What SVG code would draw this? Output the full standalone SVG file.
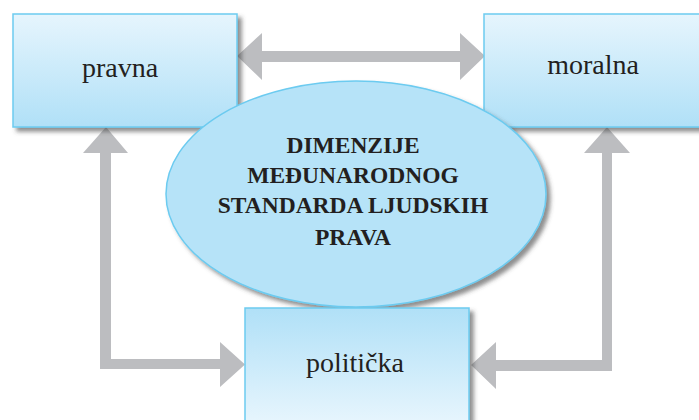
<svg xmlns="http://www.w3.org/2000/svg" width="699" height="420" viewBox="0 0 699 420">
<defs>
<linearGradient id="gDown" x1="0" y1="0" x2="0" y2="1"><stop offset="0" stop-color="#e6f5fd"/><stop offset="1" stop-color="#b0e0f7"/></linearGradient>
<linearGradient id="gUp" x1="0" y1="0" x2="0" y2="1"><stop offset="0" stop-color="#b0e0f7"/><stop offset="1" stop-color="#eef8fe"/></linearGradient>
<filter id="sh" x="-10%" y="-10%" width="130%" height="130%"><feDropShadow dx="4" dy="4" stdDeviation="2" flood-color="#444" flood-opacity="0.6"/></filter>
<style>
.box{stroke:#6ccbf0;stroke-width:1.5}
.lbl{font-family:"Liberation Serif",serif;font-size:28px;fill:#231f20;text-anchor:middle}
.ttl{font-family:"Liberation Serif",serif;font-size:23.5px;font-weight:bold;fill:#231f20;text-anchor:middle}
.arr{fill:#bcbdc0}
</style>
</defs>
<rect width="699" height="420" fill="#fff"/>
<g id="connectors">
<polygon class="arr" points="237,56 262,33 262,51 460,51 460,33 485,56 460,80 460,62 262,62 262,80"/>
<polygon class="arr" points="106,127 128,153 111,153 111,359 220,359 220,342 245,364.5 220,387 220,369 100,369 100,153 83,153"/>
<polygon class="arr" points="607,127 630,153 612,153 612,371 496,371 496,389 471,365 496,342 496,360 602,360 602,153 584,153"/>
</g>
<g id="pravna"><rect class="box" x="13" y="14" width="224" height="113" fill="url(#gDown)" filter="url(#sh)"/><text class="lbl" x="120" y="77">pravna</text></g>
<g id="moralna"><rect class="box" x="484" y="14" width="230" height="113" fill="url(#gDown)" filter="url(#sh)"/><text class="lbl" x="593" y="74">moralna</text></g>
<g id="dimenzije"><ellipse cx="356" cy="194" rx="190" ry="113" fill="#b6e3f8" stroke="#6ccbf0" stroke-width="1.5" filter="url(#sh)"/>
<text class="ttl" x="353" y="153">DIMENZIJE</text>
<text class="ttl" x="353" y="183">MEĐUNARODNOG</text>
<text class="ttl" x="353" y="213">STANDARDA LJUDSKIH</text>
<text class="ttl" x="353" y="245">PRAVA</text></g>
<g id="politicka"><rect class="box" x="245" y="308" width="224" height="130" fill="url(#gUp)" filter="url(#sh)"/><text class="lbl" x="355" y="372">politička</text></g>
</svg>
